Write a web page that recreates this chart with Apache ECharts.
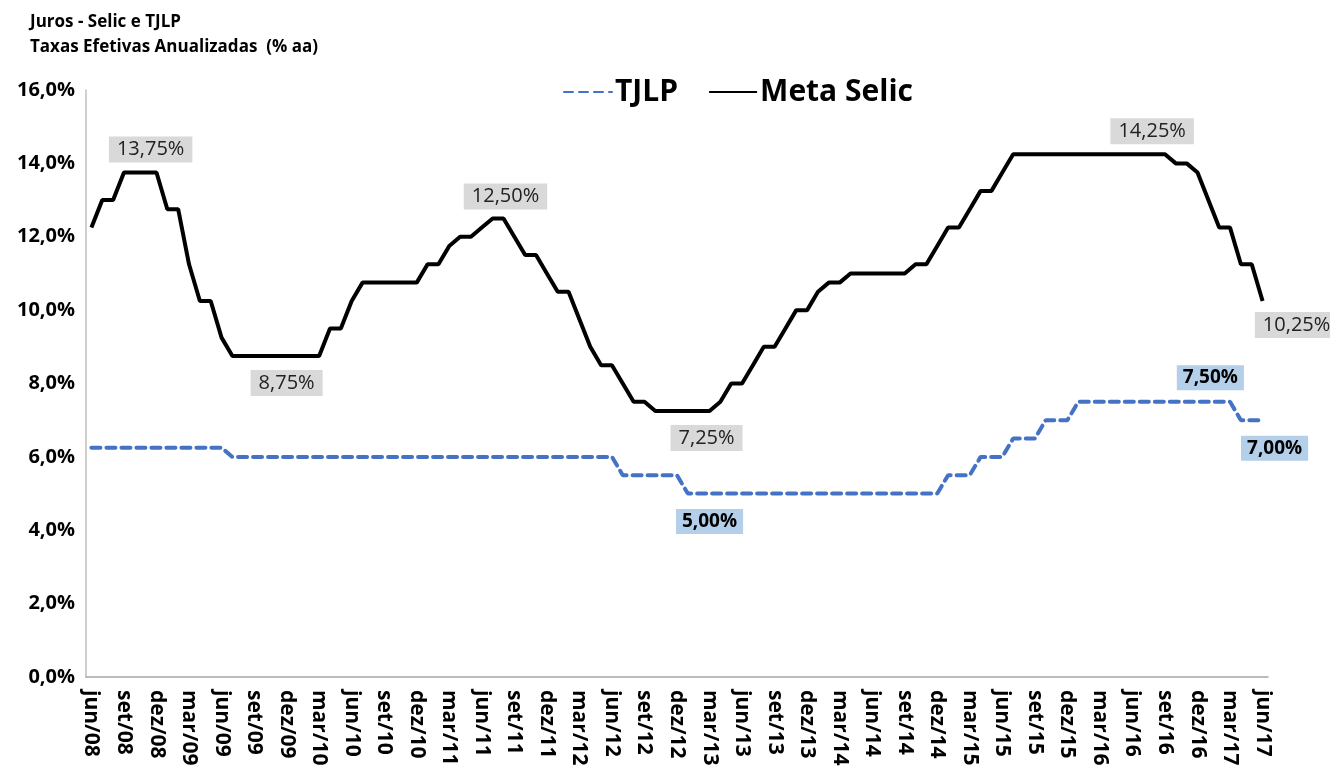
<!DOCTYPE html>
<html>
<head>
<meta charset="utf-8">
<script src="https://cdn.jsdelivr.net/npm/echarts@6/dist/echarts.min.js"></script>
<style>
  html, body { margin: 0; padding: 0; background: #fff; }
  #main { width: 1330px; height: 769px; }
</style>
</head>
<body>
<div id="main"></div>
<script>
var myChart = echarts.init(document.getElementById('main'));

// meses (jun/08 .. jun/17)
var meses = [
    'jun/08', 'jul/08', 'ago/08', 'set/08', 'out/08', 'nov/08', 'dez/08',
    'jan/09', 'fev/09', 'mar/09', 'abr/09', 'mai/09', 'jun/09', 'jul/09', 'ago/09', 'set/09', 'out/09', 'nov/09', 'dez/09',
    'jan/10', 'fev/10', 'mar/10', 'abr/10', 'mai/10', 'jun/10', 'jul/10', 'ago/10', 'set/10', 'out/10', 'nov/10', 'dez/10',
    'jan/11', 'fev/11', 'mar/11', 'abr/11', 'mai/11', 'jun/11', 'jul/11', 'ago/11', 'set/11', 'out/11', 'nov/11', 'dez/11',
    'jan/12', 'fev/12', 'mar/12', 'abr/12', 'mai/12', 'jun/12', 'jul/12', 'ago/12', 'set/12', 'out/12', 'nov/12', 'dez/12',
    'jan/13', 'fev/13', 'mar/13', 'abr/13', 'mai/13', 'jun/13', 'jul/13', 'ago/13', 'set/13', 'out/13', 'nov/13', 'dez/13',
    'jan/14', 'fev/14', 'mar/14', 'abr/14', 'mai/14', 'jun/14', 'jul/14', 'ago/14', 'set/14', 'out/14', 'nov/14', 'dez/14',
    'jan/15', 'fev/15', 'mar/15', 'abr/15', 'mai/15', 'jun/15', 'jul/15', 'ago/15', 'set/15', 'out/15', 'nov/15', 'dez/15',
    'jan/16', 'fev/16', 'mar/16', 'abr/16', 'mai/16', 'jun/16', 'jul/16', 'ago/16', 'set/16', 'out/16', 'nov/16', 'dez/16',
    'jan/17', 'fev/17', 'mar/17', 'abr/17', 'mai/17', 'jun/17'
];

var metaSelic = [
    12.25, 13.00, 13.00, 13.75, 13.75, 13.75, 13.75,
    12.75, 12.75, 11.25, 10.25, 10.25, 9.25, 8.75, 8.75, 8.75, 8.75, 8.75, 8.75,
    8.75, 8.75, 8.75, 9.50, 9.50, 10.25, 10.75, 10.75, 10.75, 10.75, 10.75, 10.75,
    11.25, 11.25, 11.75, 12.00, 12.00, 12.25, 12.50, 12.50, 12.00, 11.50, 11.50, 11.00,
    10.50, 10.50, 9.75, 9.00, 8.50, 8.50, 8.00, 7.50, 7.50, 7.25, 7.25, 7.25,
    7.25, 7.25, 7.25, 7.50, 8.00, 8.00, 8.50, 9.00, 9.00, 9.50, 10.00, 10.00,
    10.50, 10.75, 10.75, 11.00, 11.00, 11.00, 11.00, 11.00, 11.00, 11.25, 11.25, 11.75,
    12.25, 12.25, 12.75, 13.25, 13.25, 13.75, 14.25, 14.25, 14.25, 14.25, 14.25, 14.25,
    14.25, 14.25, 14.25, 14.25, 14.25, 14.25, 14.25, 14.25, 14.25, 14.00, 14.00, 13.75,
    13.00, 12.25, 12.25, 11.25, 11.25, 10.25
];

var tjlp = [
    6.25, 6.25, 6.25, 6.25, 6.25, 6.25, 6.25,
    6.25, 6.25, 6.25, 6.25, 6.25, 6.25, 6.00, 6.00, 6.00, 6.00, 6.00, 6.00,
    6.00, 6.00, 6.00, 6.00, 6.00, 6.00, 6.00, 6.00, 6.00, 6.00, 6.00, 6.00,
    6.00, 6.00, 6.00, 6.00, 6.00, 6.00, 6.00, 6.00, 6.00, 6.00, 6.00, 6.00,
    6.00, 6.00, 6.00, 6.00, 6.00, 6.00, 5.50, 5.50, 5.50, 5.50, 5.50, 5.50,
    5.00, 5.00, 5.00, 5.00, 5.00, 5.00, 5.00, 5.00, 5.00, 5.00, 5.00, 5.00,
    5.00, 5.00, 5.00, 5.00, 5.00, 5.00, 5.00, 5.00, 5.00, 5.00, 5.00, 5.00,
    5.50, 5.50, 5.50, 6.00, 6.00, 6.00, 6.50, 6.50, 6.50, 7.00, 7.00, 7.00,
    7.50, 7.50, 7.50, 7.50, 7.50, 7.50, 7.50, 7.50, 7.50, 7.50, 7.50, 7.50,
    7.50, 7.50, 7.50, 7.00, 7.00, 7.00
];

var yTicks = [0, 2, 4, 6, 8, 10, 12, 14, 16];

// pontos com rótulo: indice -> deslocamento do rótulo
var rotSelic = { 5: [5, -23], 18: [0, 27], 38: [2, -22], 57: [-3, 27], 98: [-2, -23], 108: [34, 24] };
var rotTjlp = { 57: [0, 28], 103: [2, -24], 108: [12, 28] };

var fonte = '"Open Sans", sans-serif';

function fmt(v) {
    return v.toFixed(2).replace('.', ',') + '%';
}

function comRotulos(valores, rot, estilo) {
    return valores.map(function (v, i) {
        if (!rot[i]) return v;
        return {
            value: v,
            label: Object.assign({
                show: true,
                position: 'inside',
                offset: rot[i],
                formatter: function (p) { return fmt(p.value); }
            }, estilo)
        };
    });
}

option = {
    backgroundColor: '#fff',
    animation: false,
    title: {
        text: 'Juros - Selic e TJLP\nTaxas Efetivas Anualizadas  (% aa)',
        left: 25,
        top: 5,
        textStyle: {
            fontFamily: fonte,
            fontSize: 17,
            fontWeight: 'bold',
            color: '#000',
            lineHeight: 25
        }
    },
    legend: {
        left: 558,
        top: 72,
        itemWidth: 48,
        itemHeight: 14,
        itemGap: 30,
        itemStyle: { opacity: 0 },
        textStyle: {
            fontFamily: fonte,
            fontSize: 30,
            fontWeight: 'bold',
            color: '#000',
            padding: [0, 0, 0, -2]
        },
        data: ['TJLP', 'Meta Selic']
    },
    grid: {
        left: 86,
        right: 62,
        top: 90,
        bottom: 92,
        outerBoundsMode: 'none'
    },
    xAxis: {
        type: 'category',
        data: meses,
        boundaryGap: true,
        axisLine: { lineStyle: { color: '#a6a6a6', width: 1.5 } },
        axisTick: { show: false },
        axisLabel: {
            interval: 2,
            rotate: -90,
            margin: 13,
            fontFamily: fonte,
            fontSize: 21,
            fontWeight: 'bold',
            color: '#000'
        }
    },
    yAxis: {
        type: 'value',
        min: yTicks[0],
        max: yTicks[yTicks.length - 1],
        interval: 2,
        splitLine: { show: false },
        axisLine: { show: true, lineStyle: { color: '#bfbfbf', width: 1.5 } },
        axisTick: { show: false },
        axisLabel: {
            margin: 11,
            fontFamily: fonte,
            fontSize: 20,
            fontWeight: 'bold',
            color: '#000',
            formatter: function (v) { return v.toFixed(1).replace('.', ',') + '%'; }
        }
    },
    series: [{
        name: 'TJLP',
        type: 'line',
        symbol: 'circle',
        symbolSize: 0,
        showSymbol: true,
        z: 2,
        lineStyle: { color: '#4472c4', width: 4, type: [9, 6], cap: 'round' },
        itemStyle: { color: '#4472c4' },
        data: comRotulos(tjlp, rotTjlp, {
            backgroundColor: '#b4cfea',
            padding: [4, 6, 2, 6],
            color: '#000',
            fontFamily: fonte,
            fontSize: 19,
            fontWeight: 'bold'
        })
    }, {
        name: 'Meta Selic',
        type: 'line',
        symbol: 'circle',
        symbolSize: 0,
        showSymbol: true,
        z: 3,
        lineStyle: { color: '#000', width: 4 },
        itemStyle: { color: '#000' },
        data: comRotulos(metaSelic, rotSelic, {
            backgroundColor: '#d9d9d9',
            padding: [4, 8, 2, 8],
            color: '#222',
            fontFamily: fonte,
            fontSize: 20
        })
    }]
};

myChart.setOption(option);
</script>
</body>
</html>
